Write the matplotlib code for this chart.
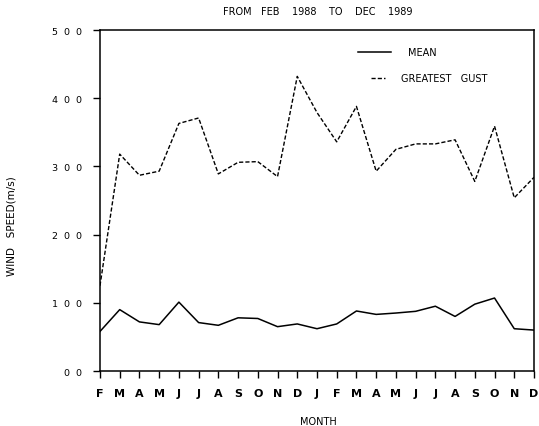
import matplotlib
matplotlib.use("Agg")
import matplotlib.pyplot as plt
from matplotlib.lines import Line2D

plt.rcParams['font.family'] = ['DejaVu Sans']

months = ["F", "M", "A", "M", "J", "J", "A", "S", "O", "N", "D",
          "J", "F", "M", "A", "M", "J", "J", "A", "S", "O", "N", "D"]
mean_speed = [5.8, 9.0, 7.2, 6.8, 10.1, 7.1, 6.7, 7.8, 7.7, 6.5, 6.9,
              6.2, 6.9, 8.8, 8.3, 8.5, 8.75, 9.5, 8.0, 9.8, 10.7, 6.2, 6.0]
greatest_gust = [12.5, 31.8, 28.7, 29.3, 36.3, 37.1, 28.9, 30.6, 30.7, 28.5, 43.2,
                 37.9, 33.6, 38.8, 29.3, 32.5, 33.3, 33.3, 33.9, 27.8, 35.9, 25.4, 28.4]
yticks = [0, 10, 20, 30, 40, 50]
ytick_labels = ["0  0", "1  0  0", "2  0  0", "3  0  0", "4  0  0", "5  0  0"]

fig = plt.figure(figsize=(5.39, 4.27), dpi=100)
ax = fig.add_axes([0.1855, 0.1288, 0.8052, 0.7986])

x = list(range(len(months)))
ax.plot(x, mean_speed, color='black', lw=1.1)
ax.plot(x, greatest_gust, color='black', lw=1.0, ls=(0, (3, 1.5)))

ax.set_xlim(0, len(months) - 1)
ax.set_ylim(0, 50)
ax.set_xticks(x)
ax.set_xticklabels(months, fontsize=8, fontweight='bold')
ax.set_yticks(yticks)
ax.set_yticklabels(ytick_labels, fontsize=6.8)
ax.tick_params(axis='x', direction='out', length=5, width=1, pad=7)
ax.tick_params(axis='y', direction='out', length=5, width=1, pad=8)
for s in ax.spines.values():
    s.set_linewidth(1.1)

fig.text(318 / 539, 1 - 422 / 427, 'MONTH', fontsize=7, ha='center', va='center')
fig.text(12 / 539, 1 - 226 / 427, 'WIND   SPEED(m/s)', fontsize=7.5, rotation=90, ha='center', va='center')
fig.text(318 / 539, 1 - 12 / 427, 'FROM   FEB    1988    TO    DEC    1989', fontsize=7, ha='center', va='center')

# legend
ax.add_line(Line2D([0.594, 0.670], [0.935, 0.935], transform=ax.transAxes, color='black', lw=1.1))
ax.add_line(Line2D([0.624, 0.657], [0.859, 0.859], transform=ax.transAxes, color='black', lw=1.0, ls=(0, (3, 1.5))))
ax.text(0.710, 0.935, 'MEAN', transform=ax.transAxes, fontsize=7, va='center')
ax.text(0.694, 0.859, 'GREATEST   GUST', transform=ax.transAxes, fontsize=7, va='center')

fig.savefig('out.png', dpi=100)
